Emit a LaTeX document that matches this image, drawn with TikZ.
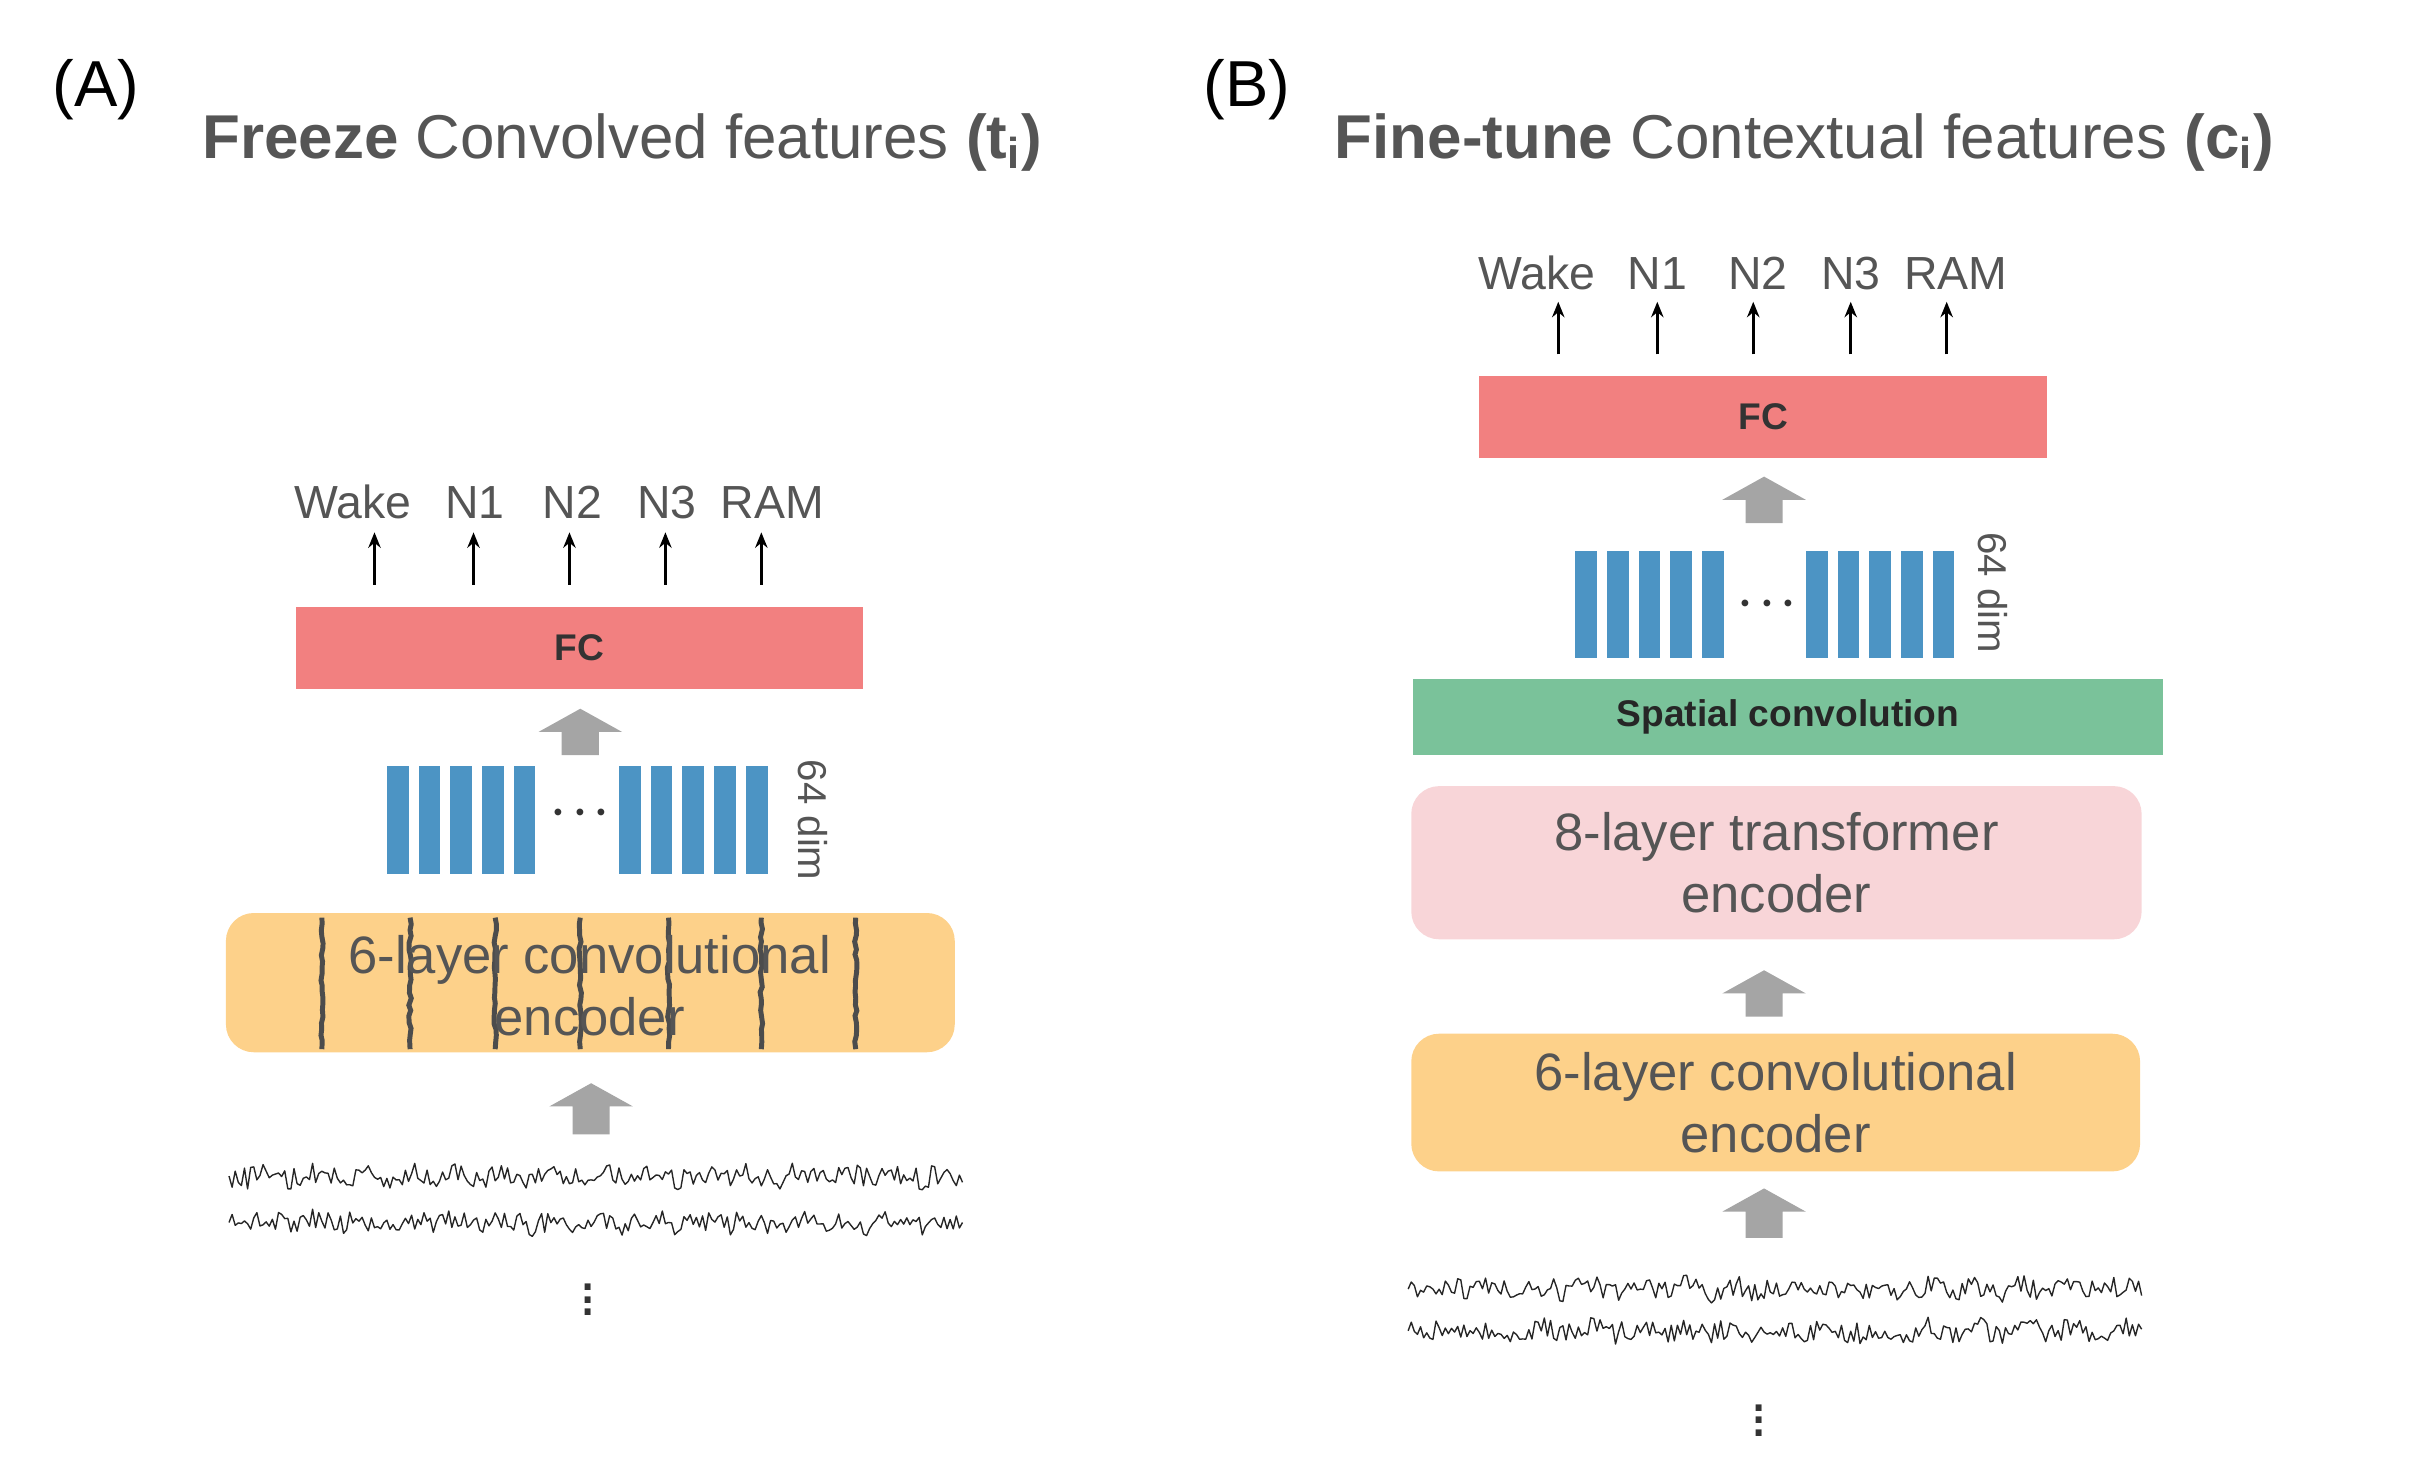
\documentclass[tikz,border=0pt]{standalone}
\usepackage{fontspec}
\setmainfont{Liberation Sans}
\usetikzlibrary{decorations.pathmorphing,arrows.meta}
\definecolor{txt}{HTML}{555555}
\definecolor{fcred}{HTML}{F28080}
\definecolor{barblue}{HTML}{4C94C4}
\definecolor{convy}{HTML}{FDD18A}
\definecolor{trpink}{HTML}{F8D5D8}
\definecolor{spgreen}{HTML}{7AC29A}
\definecolor{agray}{HTML}{A5A5A5}
\tikzset{
 lab/.style={text=txt,font=\fontsize{15}{15}\selectfont,inner sep=0},
 outa/.style={-{Stealth[length=5pt,width=4pt]},line width=0.9pt,black},
 boxtxt/.style={text=txt,font=\fontsize{17}{20}\selectfont,align=center},
 fc/.style={fill=fcred,draw=none,font=\bfseries\fontsize{12}{12}\selectfont,text=black!80},
 bar/.style={fill=barblue,draw=none},
 eeg/.style={line width=0.45pt,black!85,line join=round},
 dots/.style={font=\fontsize{20}{20}\selectfont,text=black!80,inner sep=0},
}
\newcommand{\garrow}[3]{% x, ytop, ybottom
 \fill[agray] (#1-27,#2+15) -- (#1,#2) -- (#1+27,#2+15) -- (#1+12,#2+15) -- (#1+12,#3) -- (#1-12,#3) -- (#1-12,#2+15) -- cycle;}
\newcommand{\bargroup}[3]{% xstart, ytop, ybot
 \foreach \k in {0,...,4}{\fill[bar] (#1+\k*20.5,#2) rectangle ++(14,#3-#2);}}
\newcommand{\eegline}[3]{% xstart, y, n steps
 \draw[eeg] (#1,#2) \foreach \i in {1,...,#3}{ -- ({#1+2*\i},{#2+7*rand+2*sin(\i*23)})};}
\begin{document}
\begin{tikzpicture}[x=0.5pt,y=-0.5pt]
\useasboundingbox (0,0) rectangle (1560,949);
\pgfmathsetseed{7}
% ===== Panel A =====
\node[font=\fontsize{21}{21}\selectfont] (A) at (62,58) {(A)};
\node[text=txt,font=\fontsize{20}{20}\selectfont] (tA) at (402,92) {\textbf{Freeze} Convolved features \textbf{(t$_{\mathbf{i}}$)}};
\foreach \n/\t/\x/\ax in {aw/Wake/228/242,a1/N1/307/306,a2/N2/370/368,a3/N3/431/430,ar/RAM/499/492}{
 \node[lab,anchor=base] (\n) at (\x,335) {\t};
 \coordinate (\n s) at (\ax,378);
 \draw[outa] (\n s) -- (\ax,344);
}
\node[fc,minimum width=183.5pt,minimum height=26.5pt] (fcA) at (374.5,418.5) {FC};
\garrow{375}{458}{488}
\bargroup{250}{495}{565}
\bargroup{400}{495}{565}
\node[dots] (dA) at (375,526) {\textbf{$\cdot\!\cdot\!\cdot$}};
\node[text=txt,rotate=-90,font=\fontsize{13}{13}\selectfont] (dimA) at (525,530) {64 dim};
\node[fill=convy,rounded corners=9pt,minimum width=235.5pt,minimum height=45pt,draw=none] (convA) at (381.5,635) {};
\foreach \x in {208,265,320,375,432,492,553}{
 \draw[decorate,decoration={random steps,segment length=2pt,amplitude=0.4pt},line width=1.6pt,black!70] (\x,593) -- (\x,678);}
\node[boxtxt] (convAt) at (381,637) {6-layer convolutional\\encoder};
\garrow{382}{700}{733}
\eegline{148}{760}{237}
\eegline{148}{790}{237}
\node[dots] (vA) at (380,834) {$\vdots$};
% ===== Panel B =====
\node[font=\fontsize{21}{21}\selectfont] (B) at (806,58) {(B)};
\node[text=txt,font=\fontsize{20}{20}\selectfont] (tB) at (1166,92) {\textbf{Fine-tune} Contextual features \textbf{(c$_{\mathbf{i}}$)}};
\foreach \n/\t/\x/\ax in {bw/Wake/993/1007,b1/N1/1071/1071,b2/N2/1136/1133,b3/N3/1196/1196,br/RAM/1264/1258}{
 \node[lab,anchor=base] (\n) at (\x,187) {\t};
 \coordinate (\n s) at (\ax,229);
 \draw[outa] (\n s) -- (\ax,195);
}
\node[fc,minimum width=183.5pt,minimum height=26.5pt] (fcB) at (1139.5,269.5) {FC};
\garrow{1140}{308}{338}
\bargroup{1018}{356}{425}
\bargroup{1167}{356}{425}
\node[dots] (dB) at (1142,391) {$\cdot\!\cdot\!\cdot$};
\node[text=txt,rotate=-90,font=\fontsize{13}{13}\selectfont] (dimB) at (1288,383) {64 dim};
\node[fill=spgreen,minimum width=242.5pt,minimum height=24.5pt,font=\bfseries\fontsize{12}{12}\selectfont,text=black!85] (sp) at (1155.5,463.5) {Spatial convolution};
\node[fill=trpink,rounded corners=9pt,minimum width=236pt,minimum height=49.5pt,boxtxt] (tr) at (1148,557.5) {8-layer transformer\\encoder};
\garrow{1140}{627}{657}
\node[fill=convy,rounded corners=9pt,minimum width=235.5pt,minimum height=44.5pt,boxtxt] (convB) at (1147.5,712.5) {6-layer convolutional\\encoder};
\garrow{1140}{768}{800}
\eegline{910}{833}{237}
\eegline{910}{860}{237}
\node[dots] (vB) at (1137,912) {$\vdots$};
\end{tikzpicture}
\end{document}
